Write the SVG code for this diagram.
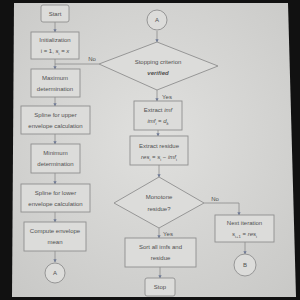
<svg xmlns="http://www.w3.org/2000/svg" width="300" height="300" viewBox="0 0 300 300">
<defs>
<radialGradient id="paper" cx="0.5" cy="0.45" r="0.75">
<stop offset="0" stop-color="#e0e0de"/>
<stop offset="1" stop-color="#c8c8c6"/>
</radialGradient>
<marker id="ah" viewBox="0 0 6 6" refX="5" refY="3" markerWidth="4" markerHeight="4" orient="auto">
<path d="M0,0 L6,3 L0,6 z" fill="#6f7a96"/>
</marker>
<style>
.box{fill:#dcdcda;stroke:#8e8e8e;stroke-width:0.9}
.t{font-family:"Liberation Sans","DejaVu Sans",sans-serif;font-size:6px;fill:#505050;text-anchor:middle}
.c{fill:none;stroke:#8a8a8a;stroke-width:0.8}
.ca{fill:none;stroke:#8a8a8a;stroke-width:0.8;marker-end:url(#ah)}
.sub{font-size:4.2px}
</style>
</defs>
<rect width="300" height="300" fill="#111"/>
<polygon points="14,3 288,3 296,297 12,297" fill="url(#paper)"/>

<g id="connectors">
<path class="ca" d="M55,22 L55,32"/>
<path class="ca" d="M55,59 L55,69"/>
<path class="c" d="M99,64 L55,64"/>
<path class="ca" d="M55,97 L55,106"/>
<path class="ca" d="M55,134 L55,144"/>
<path class="ca" d="M55,173 L55,184"/>
<path class="ca" d="M55,212 L55,222"/>
<path class="ca" d="M55,251 L55,262"/>
<path class="ca" d="M157,31 L157,42"/>
<path class="ca" d="M157,90 L157,101"/>
<path class="ca" d="M158,130 L158,136"/>
<path class="ca" d="M159,165 L159,177"/>
<path class="ca" d="M159,228 L159,238"/>
<path class="ca" d="M160,267 L160,278"/>
<path class="ca" d="M204,203 L239,203 L239,215"/>
<path class="ca" d="M245,242 L245,254"/>
<text class="t" x="92" y="61">No</text>
<text class="t" x="167" y="99">Yes</text>
<text class="t" x="215" y="201">No</text>
<text class="t" x="168" y="236">Yes</text>
</g>

<g id="start">
<rect class="box" x="41" y="5" width="28" height="17" rx="2"/>
<text class="t" x="55" y="16">Start</text>
</g>
<g id="init">
<rect class="box" x="31" y="32" width="48" height="27"/>
<text class="t" x="55" y="42">Initialization</text>
<text class="t" x="55" y="53">i = 1,  <tspan font-style="italic">s</tspan><tspan class="sub" dy="1.5">i</tspan><tspan dy="-1.5"> = </tspan><tspan font-style="italic">x</tspan></text>
</g>
<g id="max">
<rect class="box" x="31" y="69" width="49" height="28"/>
<text class="t" x="55" y="80">Maximum</text>
<text class="t" x="55" y="91">determination</text>
</g>
<g id="splineUp">
<rect class="box" x="21" y="106" width="69" height="28"/>
<text class="t" x="55.5" y="117">Spline for upper</text>
<text class="t" x="55.5" y="128">envelope calculation</text>
</g>
<g id="min">
<rect class="box" x="31" y="144" width="49" height="29"/>
<text class="t" x="55.5" y="155">Minimum</text>
<text class="t" x="55.5" y="166">determination</text>
</g>
<g id="splineLow">
<rect class="box" x="21" y="184" width="69" height="28"/>
<text class="t" x="55.5" y="195">Spline for lower</text>
<text class="t" x="55.5" y="206">envelope calculation</text>
</g>
<g id="mean">
<rect class="box" x="24" y="222" width="62" height="29"/>
<text class="t" x="55" y="233">Compute envelope</text>
<text class="t" x="55" y="244">mean</text>
</g>
<g id="A1">
<circle class="box" cx="55" cy="273" r="10"/>
<text class="t" x="55" y="275">A</text>
</g>
<g id="A2">
<circle class="box" cx="157" cy="20" r="10"/>
<text class="t" x="157" y="22">A</text>
</g>
<g id="stopCrit">
<polygon class="box" points="157,42 218,66 157,90 99,64"/>
<text class="t" x="158" y="64">Stopping criterion</text>
<text class="t" x="158" y="75" font-weight="bold" font-style="italic">verified</text>
</g>
<g id="extractImf">
<rect class="box" x="134" y="101" width="48" height="29"/>
<text class="t" x="158" y="112">Extract <tspan font-style="italic">imf</tspan></text>
<text class="t" x="158" y="123" font-style="italic">imf<tspan class="sub" dy="1.5">i</tspan><tspan dy="-1.5" font-style="normal"> = </tspan>d<tspan class="sub" dy="1.5">k</tspan></text>
</g>
<g id="extractRes">
<rect class="box" x="130" y="136" width="58" height="29"/>
<text class="t" x="159" y="148">Extract residue</text>
<text class="t" x="159" y="159"><tspan font-style="italic">res</tspan><tspan class="sub" dy="1.5">i</tspan><tspan dy="-1.5"> = </tspan><tspan font-style="italic">s</tspan><tspan class="sub" dy="1.5">i</tspan><tspan dy="-1.5"> − </tspan><tspan font-style="italic">imf</tspan><tspan class="sub" dy="1.5">i</tspan></text>
</g>
<g id="monotone">
<polygon class="box" points="159,177 204,203 159,228 114,203"/>
<text class="t" x="159" y="199">Monotone</text>
<text class="t" x="159" y="211">residue?</text>
</g>
<g id="next">
<rect class="box" x="215" y="215" width="59" height="27"/>
<text class="t" x="244.5" y="225">Next iteration</text>
<text class="t" x="244.5" y="236"><tspan font-style="italic">s</tspan><tspan class="sub" dy="1.5">i+1</tspan><tspan dy="-1.5"> = </tspan><tspan font-style="italic">res</tspan><tspan class="sub" dy="1.5">i</tspan></text>
</g>
<g id="B">
<circle class="box" cx="245" cy="265" r="11"/>
<text class="t" x="245" y="267">B</text>
</g>
<g id="sort">
<rect class="box" x="125" y="238" width="71" height="29"/>
<text class="t" x="160.5" y="249">Sort all imfs and</text>
<text class="t" x="160.5" y="260">residue</text>
</g>
<g id="stop">
<rect class="box" x="145" y="278" width="30" height="18" rx="2"/>
<text class="t" x="160" y="289">Stop</text>
</g>
</svg>
